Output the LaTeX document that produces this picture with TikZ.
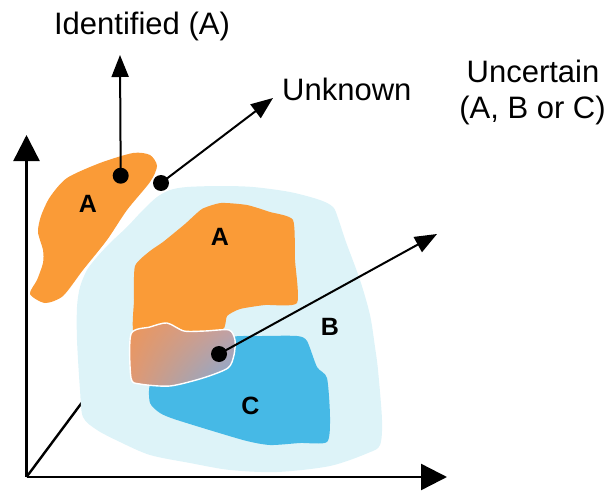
\documentclass[tikz,border=0pt]{standalone}
\usepackage{fontspec}
\setmainfont{Liberation Sans}
\usetikzlibrary{arrows.meta,shadings}
\definecolor{orA}{RGB}{250,155,55}
\definecolor{blC}{RGB}{70,185,230}
\definecolor{ltB}{RGB}{221,243,248}
\definecolor{gUL}{RGB}{236,150,90}
\definecolor{gUR}{RGB}{200,160,160}
\definecolor{gLL}{RGB}{225,152,115}
\definecolor{gLR}{RGB}{125,172,220}
\tikzset{
  axis/.style={line width=2.4pt,-{Triangle[length=26pt,width=26pt]}},
  arr/.style={line width=2pt,-{Triangle[length=22pt,width=17pt]}},
  dotn/.style={circle,fill=black,inner sep=0pt,minimum size=16pt},
  lbl/.style={font=\fontsize{31}{37}\selectfont,inner sep=0pt,anchor=base},
  reg/.style={font=\bfseries\fontsize{25}{29}\selectfont,inner sep=0pt},
}
\begin{document}
\begin{tikzpicture}[x=1pt,y=-1pt]
\useasboundingbox (0,0) rectangle (613,492);
% axes
\coordinate (O) at (26.5,477);
\coordinate (Y) at (26.5,135);
\coordinate (X) at (447,477);
\coordinate (Z) at (92,389);
\draw[line width=2.4pt] (O) -- (Z);
\draw[axis] (O) -- (Y);
\draw[axis] (O) -- (X);
% light blue region B
\fill[ltB] plot[smooth cycle,tension=0.5] coordinates {
 (157,197) (170,190) (187,187) (220,186) (253,187) (290,192) (320,200) (333,207)
 (338,218) (346,242) (360,280) (370,315) (375,347) (378,370) (382,420) (380,445)
 (368,453) (330,466) (277,472) (230,470) (190,463) (150,455) (120,442) (97,430)
 (83,417) (80,390) (77,340) (77,307) (80,287) (87,270) (97,257) (110,243)
 (127,227) (143,210)};
% top-left orange A
\fill[orA] plot[smooth cycle,tension=0.45] coordinates {
 (30,294) (37,280) (43,263) (43,250) (38,232) (41,216) (50,197) (67,178)
 (100,163) (133,153) (150,155) (157,166) (150,182) (127,210) (107,240) (83,270)
 (63,296) (45,303)};
% big orange A
\fill[orA] plot[smooth cycle,tension=0.35] coordinates {
 (135,266) (150,251) (163,242) (185,224) (202,209) (221,203) (247,205) (270,212)
 (293,220) (295,260) (297,303) (265,305) (240,309) (227,316) (222,330)
 (180,332) (135,336) (134,300)};
% blue C
\fill[blC] plot[smooth cycle,tension=0.4] coordinates {
 (232,337) (262,336) (297,336) (307,341) (317,367) (327,378) (330,417) (327,442)
 (300,443) (270,445) (243,440) (177,420) (160,413) (150,403) (150,385) (165,376)
 (205,366) (228,350)};
% uncertain overlap region
\shadedraw[upper left=gUL,upper right=gUR,lower left=gLL,lower right=gLR,draw=white,line width=1.4pt]
 plot[smooth cycle,tension=0.45] coordinates {
 (131,334) (150,327) (167,323) (184,331) (205,331) (229,330) (235,340) (234,355)
 (228,368) (203,378) (170,386) (140,384) (131,378)};
% region labels
\node[reg] (lA1) at (88,204) {A};
\node[reg] (lA2) at (220,237) {A};
\node[reg] (lB) at (330,327) {B};
\node[reg] (lC) at (250.5,406) {C};
% dots and arrows
\node[dotn] (d1) at (120.7,175.7) {};
\node[dotn] (d2) at (161,183) {};
\node[dotn] (d3) at (219,354) {};
\coordinate (t1) at (120,55);
\coordinate (t2) at (273,98);
\coordinate (t3) at (437,234);
\draw[arr] (d1.center) -- (t1);
\draw[arr] (d2.center) -- (t2);
\draw[arr] (d3.center) -- (t3);
% texts
\node[lbl] (tIdent) at (142,35) {Identified (A)};
\node[lbl,anchor=base west] (tUnk) at (282,100.5) {Unknown};
\node[lbl] (tUnc1) at (533,83) {Uncertain};
\node[lbl] (tUnc2) at (532.5,119) {(A, B or C)};
\end{tikzpicture}
\end{document}
